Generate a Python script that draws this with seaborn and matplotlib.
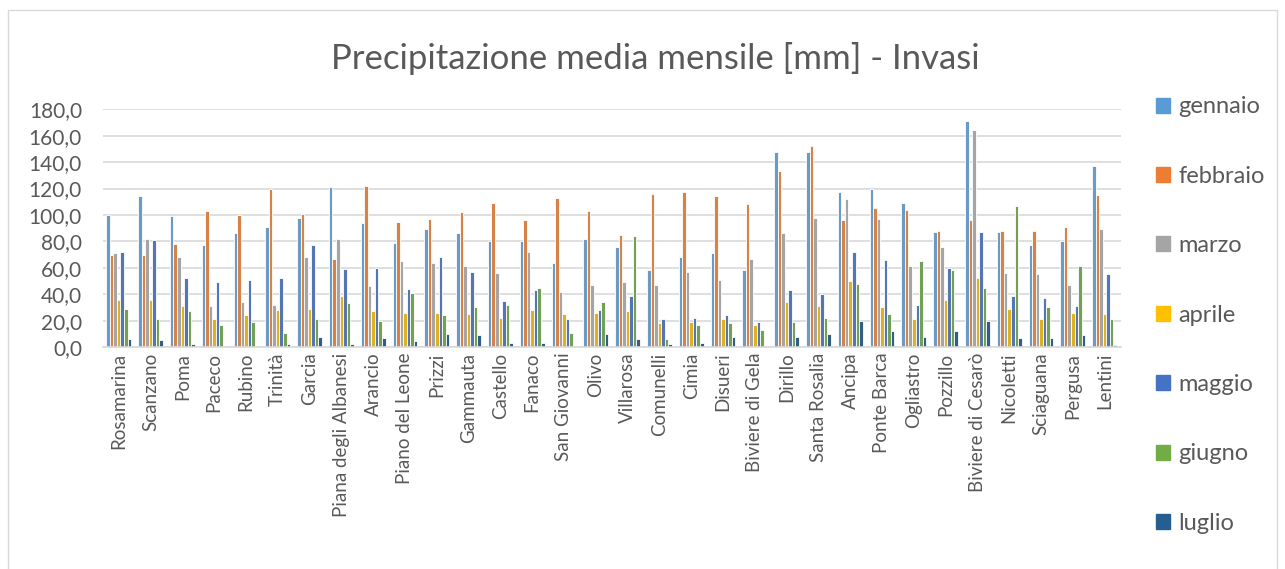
import pandas as pd
import numpy as np
import matplotlib
matplotlib.use("Agg")
import matplotlib.pyplot as plt
from matplotlib.patches import Rectangle
import seaborn as sns

# Data
invasi = ["Rosamarina", "Scanzano", "Poma", "Paceco", "Rubino", "Trinità", "Garcia",
          "Piana degli Albanesi", "Arancio", "Piano del Leone", "Prizzi", "Gammauta",
          "Castello", "Fanaco", "San Giovanni", "Olivo", "Villarosa", "Comunelli",
          "Cimia", "Disueri", "Biviere di Gela", "Dirillo", "Santa Rosalia", "Ancipa",
          "Ponte Barca", "Ogliastro", "Pozzillo", "Biviere di Cesarò", "Nicoletti",
          "Sciaguana", "Pergusa", "Lentini"]

gennaio = [100, 114, 99, 77, 86, 91, 98, 121, 94, 79, 89, 86, 80, 80, 64, 82, 76, 58,
           68, 71, 58, 148, 148, 117, 120, 109, 87, 171, 87, 77, 80, 137]
febbraio = [70, 70, 78, 103, 100, 120, 101, 67, 122, 95, 97, 102, 109, 96, 113, 103, 85, 116,
            117, 114, 108, 133, 152, 96, 105, 104, 88, 96, 88, 88, 91, 115]
marzo = [71, 82, 68, 31, 34, 32, 68, 82, 46, 65, 64, 61, 56, 72, 42, 47, 49, 47,
         57, 51, 67, 86, 98, 112, 97, 61, 76, 164, 56, 55, 47, 89]
aprile = [36, 36, 31, 21, 24, 28, 29, 39, 27, 26, 26, 25, 22, 28, 25, 26, 27, 18,
          19, 21, 17, 34, 31, 50, 30, 21, 36, 52, 29, 21, 26, 25]
maggio = [72, 81, 52, 49, 51, 52, 77, 59, 60, 44, 68, 57, 35, 43, 21, 28, 39, 21,
          22, 24, 19, 43, 40, 72, 66, 32, 60, 87, 39, 37, 31, 55]
giugno = [29, 21, 27, 17, 19, 11, 21, 33, 20, 41, 24, 30, 32, 45, 11, 34, 84, 6,
          17, 18, 13, 19, 22, 48, 25, 65, 58, 45, 107, 30, 61, 21]
luglio = [6, 5, 2.5, 0, 0, 2, 8, 2.5, 7, 4.5, 10, 9, 3, 3, 1, 10, 6, 2.5,
          3, 8, 1, 8, 10, 20, 12, 8, 12, 20, 7, 7, 9, 1.3]

mesi = ["gennaio", "febbraio", "marzo", "aprile", "maggio", "giugno", "luglio"]
colori = ["#5B9BD5", "#ED7D31", "#A5A5A5", "#FFC000", "#4472C4", "#70AD47", "#255E91"]

df = pd.DataFrame({"Invaso": invasi, "gennaio": gennaio, "febbraio": febbraio,
                   "marzo": marzo, "aprile": aprile, "maggio": maggio,
                   "giugno": giugno, "luglio": luglio})
long_df = df.melt(id_vars="Invaso", var_name="Mese", value_name="mm")

sns.set_style("white")
plt.rcParams["font.family"] = ["Lato", "DejaVu Sans"]

fig = plt.figure(figsize=(12.85, 5.69), dpi=100)
ax = fig.add_axes([0.080, 0.390, 0.792, 0.418])

sns.barplot(data=long_df, x="Invaso", y="mm", hue="Mese", hue_order=mesi,
            palette=colori, width=0.78, errorbar=None, ax=ax,
            edgecolor="white", linewidth=0.6)

ax.set_ylim(0, 180)
ax.set_xlim(-0.5, len(invasi) - 0.5)
ax.set_yticks(np.arange(0, 181, 20))
ax.set_yticklabels([f"{v:.1f}".replace(".", ",") for v in np.arange(0, 181, 20)],
                   fontsize=15, color="#595959")
ax.set_xticks(range(len(invasi)))
ax.set_xticklabels(invasi, rotation=90, fontsize=13.5, color="#595959")
ax.tick_params(axis="x", length=0, pad=4)
ax.tick_params(axis="y", length=0, pad=15)
ax.set_xlabel("")
ax.set_ylabel("")
ax.yaxis.grid(True, color="#D9D9D9", linewidth=1.2)
ax.set_axisbelow(True)
for s in ["top", "right", "left"]:
    ax.spines[s].set_visible(False)
ax.spines["bottom"].set_color("#D9D9D9")
ax.spines["bottom"].set_linewidth(1.2)

ax.legend_.remove()
handles = [Rectangle((0, 0), 1, 1, color=c) for c in colori]
fig.legend(handles, mesi, loc="upper left", bbox_to_anchor=(0.883, 0.868),
           frameon=False, fontsize=17, labelcolor="#595959",
           handlelength=0.6, handleheight=0.6, handletextpad=0.35,
           labelspacing=2.05)

fig.text(0.51, 0.898, "Precipitazione media mensile [mm] - Invasi", ha="center",
         va="center", fontsize=25, color="#595959")

fig.patches.append(Rectangle((0.006, -0.01), 0.988, 0.993, transform=fig.transFigure,
                             fill=False, edgecolor="#D9D9D9", linewidth=1))

plt.savefig("out.png", dpi=100)
